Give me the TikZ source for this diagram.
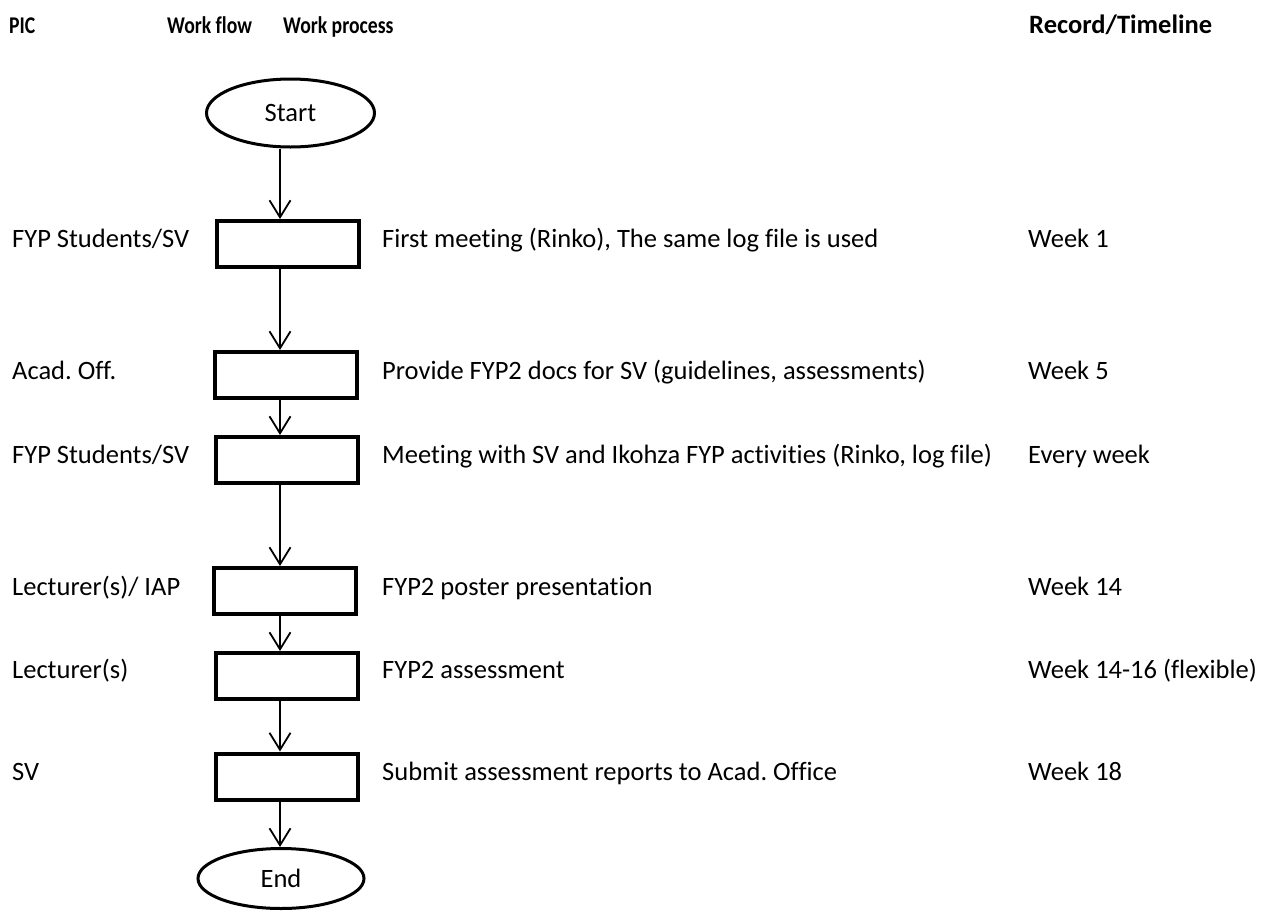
\documentclass[tikz,border=0pt]{standalone}
\usepackage{fontspec}
\setmainfont{Carlito}[Ligatures=NoCommon]
\usetikzlibrary{shapes.geometric,arrows.meta}
\frenchspacing
\newcommand{\narrowhdr}[1]{\scalebox{0.82}[1]{#1}}
\begin{document}
\begin{tikzpicture}[x=1pt,y=-1pt,
  txt/.style={anchor=base west,inner sep=0pt,font=\fontsize{26.5}{30}\selectfont},
  hdr/.style={txt,font=\fontsize{24}{28}\selectfont\bfseries},
  hdrbig/.style={txt,font=\fontsize{26.5}{30}\selectfont\bfseries},
  stepbox/.style={draw,line width=4pt,minimum width=142pt,minimum height=46pt,inner sep=0pt},
  term/.style={draw,ellipse,line width=3pt,inner sep=0pt,font=\fontsize{26.5}{30}\selectfont},
  arr/.style={line width=1.8pt,-{Straight Barb[length=17pt,width=21pt,line width=1.8pt]}}]
\useasboundingbox (0,0) rectangle (1262,916);
% headers
\node[hdr] (h1) at (9,33) {\narrowhdr{PIC}};
\node[hdr] (h2) at (167,33) {\narrowhdr{Work flow}};
\node[hdr] (h3) at (283,33) {\narrowhdr{Work process}};
\node[hdrbig] (h4) at (1029,33) {Record/Timeline};
% shapes
\node[term,minimum width=168pt,minimum height=68pt] (s) at (290.5,113) {Start};
\node[stepbox] (b1) at (288,244) {};
\node[stepbox] (b2) at (285.5,375) {};
\node[stepbox] (b3) at (287,460) {};
\node[stepbox] (b4) at (285,591) {};
\node[stepbox] (b5) at (287,676) {};
\node[stepbox] (b6) at (287,776.5) {};
\node[term,minimum width=166pt,minimum height=60pt] (e) at (281,878.5) {End};
% arrows
\coordinate (ax) at (280,0);
\draw[arr] (s.south -| ax) -- (b1.north -| ax);
\draw[arr] (b1.south -| ax) -- (b2.north -| ax);
\draw[arr] (b2.south -| ax) -- (b3.north -| ax);
\draw[arr] (b3.south -| ax) -- (b4.north -| ax);
\draw[arr] (b4.south -| ax) -- (b5.north -| ax);
\draw[arr] (b5.south -| ax) -- (b6.north -| ax);
\draw[arr] (b6.south -| ax) -- (e.north -| ax);
% PIC column
\node[txt] (p1) at (12,247) {FYP Students/SV};
\node[txt] (p2) at (12,379) {Acad. Off.};
\node[txt] (p3) at (12,463) {FYP Students/SV};
\node[txt] (p4) at (12,595) {Lecturer(s)/ IAP};
\node[txt] (p5) at (12,678) {Lecturer(s)};
\node[txt] (p6) at (12,780) {SV};
% process column
\node[txt] (w1) at (382,247) {First meeting (Rinko), The same log file is used};
\node[txt] (w2) at (382,379) {Provide FYP2 docs for SV (guidelines, assessments)};
\node[txt] (w3) at (382,463) {Meeting with SV and Ikohza FYP activities (Rinko, log file)};
\node[txt] (w4) at (382,595) {FYP2 poster presentation};
\node[txt] (w5) at (382,678) {FYP2 assessment};
\node[txt] (w6) at (382,780) {Submit assessment reports to Acad. Office};
% timeline column
\node[txt] (t1) at (1028,247) {Week 1};
\node[txt] (t2) at (1028,379) {Week 5};
\node[txt] (t3) at (1028,463) {Every week};
\node[txt] (t4) at (1028,595) {Week 14};
\node[txt] (t5) at (1028,678) {Week 14-16 (flexible)};
\node[txt] (t6) at (1028,780) {Week 18};
\end{tikzpicture}
\end{document}
